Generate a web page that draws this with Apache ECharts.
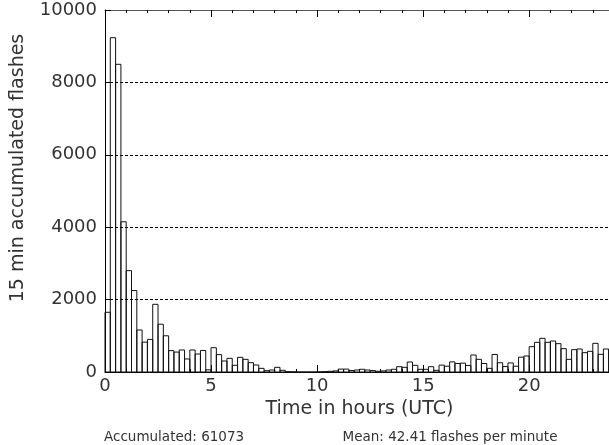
<!DOCTYPE html>
<html>
<head>
<meta charset="utf-8">
<script src="https://cdn.jsdelivr.net/npm/echarts@6/dist/echarts.min.js"></script>
<style>
    html, body { margin: 0; padding: 0; background: #fff; }
    #chart { width: 609px; height: 445px; }
</style>
</head>
<body>
<div id="chart"></div>
<script>
    // 15 min bins, 00:00 .. 23:45 UTC (one row = 3 hours)
    var binHours = 0.25;
    var flashes = [
        1650, 9235, 8500, 4150, 2800, 2250, 1160, 825, 900, 1870, 1320, 1000,
        590, 550, 608, 360, 608, 497, 595, 60, 671, 480, 304, 377,
        184, 405, 350, 258, 193, 101, 37, 55, 129, 47, 10, 5,
        0, 0, 0, 0, 5, 10, 20, 30, 80, 80, 40, 55,
        75, 55, 40, 20, 30, 55, 75, 147, 129, 276, 184, 74,
        74, 147, 46, 190, 160, 280, 235, 245, 180, 470, 350, 235,
        101, 485, 255, 150, 250, 160, 410, 442, 700, 820, 930, 820,
        856, 783, 645, 350, 617, 635, 534, 571, 792, 488, 635, 620
    ];
    var xTitle = 'Time in hours (UTC)';
    var yTitle = '15 min accumulated flashes';
    var totalText = 'Accumulated: 61073';
    var meanText = 'Mean: 42.41 flashes per minute';

    var font = 'DejaVu Sans';
    var textColor = '#333';

    var chartDom = document.getElementById('chart');
    var myChart = echarts.init(chartDom);
    var option;

    // [start, end, count] for each bin
    var bins = [];
    for (var i = 0; i < flashes.length; i++) {
        bins.push([i * binHours, (i + 1) * binHours, flashes[i]]);
    }

    function hourAxis(pos, step, tickLen, extra) {
        var ax = {
            type: 'value',
            position: pos,
            min: 0,
            max: 24,
            interval: step,
            axisLine: { show: false },
            axisTick: { inside: true, length: tickLen, lineStyle: { color: '#000', width: 1 } },
            axisLabel: { show: false },
            splitLine: { show: false }
        };
        return Object.assign(ax, extra || {});
    }

    option = {
        animation: false,
        backgroundColor: '#fff',
        grid: { left: 105, right: -5, top: 10, bottom: 73, outerBoundsMode: 'none' },
        xAxis: [
            hourAxis('bottom', 5, 7, {
                name: xTitle,
                nameLocation: 'middle',
                nameGap: 26,
                nameTextStyle: { fontFamily: font, fontSize: 19, color: textColor },
                axisLine: { show: true, lineStyle: { color: '#000', width: 1 } },
                axisLabel: { show: true, margin: 5, fontFamily: font, fontSize: 18, color: textColor, showMaxLabel: false }
            }),
            hourAxis('bottom', 1, 3),
            hourAxis('top', 5, 7, {
                axisLine: { show: true, lineStyle: { color: '#555', width: 1 } }
            }),
            hourAxis('top', 1, 3)
        ],
        yAxis: {
            type: 'value',
            min: 0,
            max: 10000,
            interval: 2000,
            axisLine: { show: true, lineStyle: { color: '#000', width: 1 } },
            axisTick: { show: true, inside: true, length: 6, lineStyle: { color: '#000' } },
            axisLabel: {
                margin: 8, fontFamily: font, fontSize: 18, color: textColor,
                formatter: function (v) { return String(v); }
            },
            splitLine: { show: true, lineStyle: { color: '#000', width: 1, type: [3, 2] } }
        },
        graphic: [
            {
                type: 'text',
                x: 18,
                y: 168,
                rotation: Math.PI / 2,
                style: { text: yTitle, fontFamily: font, fontSize: 19, fill: textColor, align: 'center', verticalAlign: 'middle' }
            },
            {
                type: 'text',
                x: 104,
                y: 437,
                style: { text: totalText, fontFamily: font, fontSize: 13.5, fill: textColor, align: 'left', verticalAlign: 'middle' }
            },
            {
                type: 'text',
                x: 450,
                y: 437,
                style: { text: meanText, fontFamily: font, fontSize: 13.5, fill: textColor, align: 'center', verticalAlign: 'middle' }
            }
        ],
        series: [
            {
                type: 'custom',
                xAxisIndex: 0,
                yAxisIndex: 0,
                data: bins,
                encode: { x: [0, 1], y: 2 },
                renderItem: function (params, api) {
                    var p0 = api.coord([api.value(0), 0]);
                    var p1 = api.coord([api.value(1), api.value(2)]);
                    return {
                        type: 'rect',
                        shape: { x: p0[0], y: p1[1], width: p1[0] - p0[0], height: p0[1] - p1[1] },
                        style: { fill: 'none', stroke: '#111', lineWidth: 1 }
                    };
                }
            }
        ]
    };

    option && myChart.setOption(option);
</script>
</body>
</html>
